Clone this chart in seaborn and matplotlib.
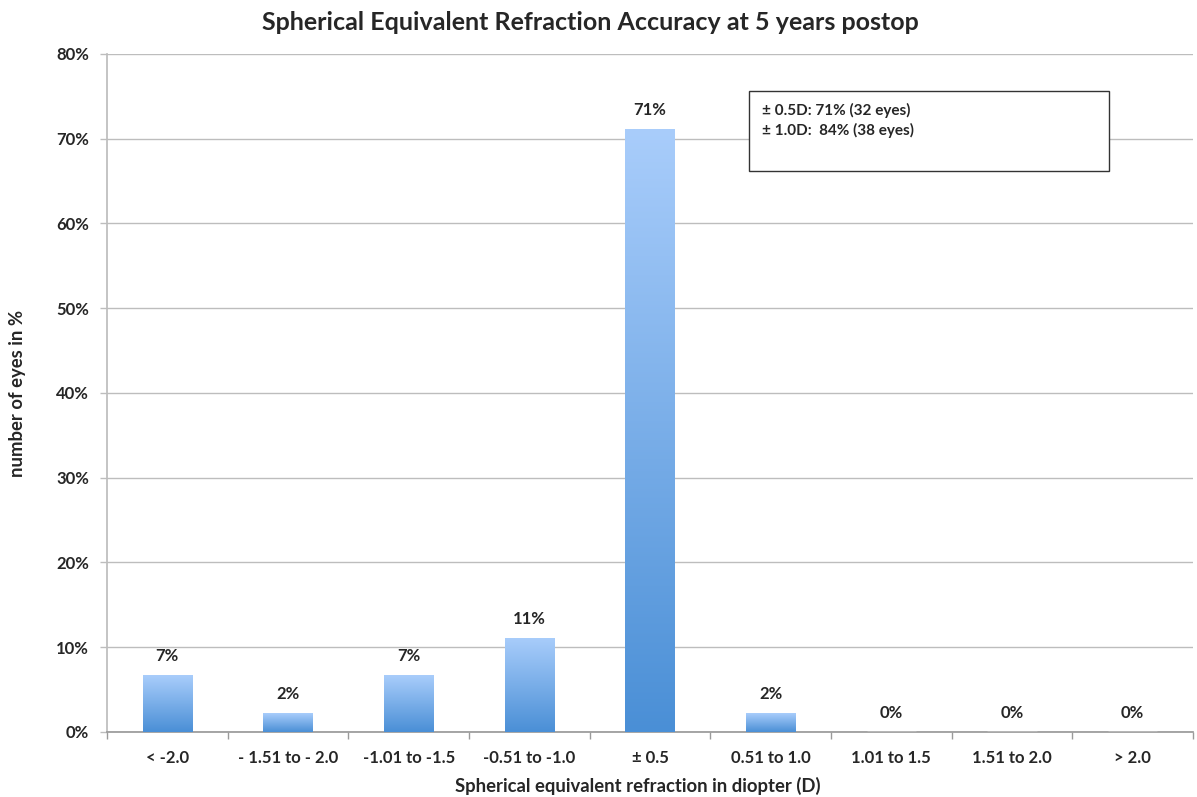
import numpy as np
import pandas as pd
import matplotlib.pyplot as plt
import seaborn as sns
from matplotlib.colors import LinearSegmentedColormap
from matplotlib.ticker import FixedLocator

categories = ["< -2.0", "- 1.51 to - 2.0", "-1.01 to -1.5", "-0.51 to -1.0", "\u00b1 0.5",
              "0.51 to 1.0", "1.01 to 1.5", "1.51 to 2.0", "> 2.0"]
percent = [6.7, 2.2, 6.7, 11.1, 71.1, 2.2, 0, 0, 0]
labels = ["7%", "2%", "7%", "11%", "71%", "2%", "0%", "0%", "0%"]
yticks = [0, 10, 20, 30, 40, 50, 60, 70, 80]

df = pd.DataFrame({"range": categories, "pct": percent})

sns.set_theme(style="white")
plt.rcParams["font.family"] = ["Lato", "DejaVu Sans"]
plt.rcParams["font.weight"] = "bold"

fig = plt.figure(figsize=(11.97, 7.97), dpi=100)
ax = fig.add_axes([0.0894, 0.0816, 0.9073, 0.8507])

sns.barplot(data=df, x="range", y="pct", color="#7fb0ea", width=0.41, ax=ax, zorder=3)

# gradient fill, light on top, darker at the bottom
cmap = LinearSegmentedColormap.from_list("bars", ["#4a8fd6", "#a9cdfb"])
grad = np.linspace(0, 1, 256).reshape(-1, 1)
for p in ax.patches:
    x0, y0 = p.get_x(), p.get_y()
    w, h = p.get_width(), p.get_height()
    if h <= 0:
        continue
    im = ax.imshow(grad, cmap=cmap, aspect="auto", origin="lower",
                   extent=[x0, x0 + w, y0, y0 + h], zorder=3)
    im.set_clip_path(p)
    p.set_facecolor("none")
    p.set_edgecolor("none")

for i, (v, lab) in enumerate(zip(percent, labels)):
    ax.text(i, v + 1.3, lab, ha="center", va="bottom", fontsize=12, fontweight="bold")

ax.set_xlim(-0.5, len(categories) - 0.5)
ax.set_ylim(0, 80)
ax.set_yticks(yticks)
ax.set_yticklabels([f"{t}%" for t in yticks], fontsize=12, fontweight="bold")
ax.yaxis.grid(True, color="#bdbdbd", linewidth=1.0, zorder=0)
ax.set_axisbelow(True)

ax.tick_params(axis="x", which="major", length=0, pad=13, labelsize=12)
ax.xaxis.set_minor_locator(FixedLocator(np.arange(-0.5, len(categories), 1.0)))
ax.tick_params(axis="x", which="minor", length=5, color="#9a9a9a", width=1, bottom=True)
ax.tick_params(axis="y", length=5, color="#bdbdbd", width=1, left=True, pad=8)
for lab in ax.get_xticklabels():
    lab.set_fontweight("bold")

for s in ["top", "right"]:
    ax.spines[s].set_visible(False)
ax.spines["left"].set_color("#bdbdbd")
ax.spines["bottom"].set_color("#9a9a9a")

ax.set_xlabel("Spherical equivalent refraction in diopter (D)", fontsize=13.3,
              fontweight="bold", labelpad=8)
ax.xaxis.label.set_x(0.489)
ax.set_ylabel("number of eyes in %", fontsize=13.3, fontweight="bold", va="center")
ax.yaxis.set_label_coords(-0.082, 0.5)
ax.set_title("Spherical Equivalent Refraction Accuracy at 5 years postop",
             fontsize=18, fontweight="bold", pad=17, x=0.445)

box = plt.Rectangle((0.591, 0.827), 0.332, 0.118, transform=ax.transAxes,
                    facecolor="white", edgecolor="#333333", linewidth=1.0, zorder=5)
ax.add_patch(box)
ax.text(0.603, 0.928, "\u00b1 0.5D: 71% (32 eyes)\n\u00b1 1.0D:  84% (38 eyes)",
        transform=ax.transAxes, ha="left", va="top", fontsize=11, fontweight="bold",
        linespacing=1.45, zorder=6)

fig.savefig("out.png", dpi=100)
plt.close()
